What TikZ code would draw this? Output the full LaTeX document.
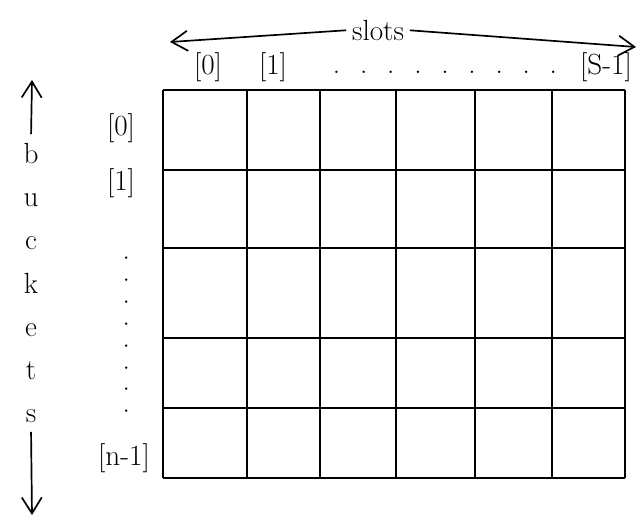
\documentclass[tikz,border=0pt]{standalone}
\usepackage{tikz}
\usetikzlibrary{arrows.meta,positioning}
\tikzset{
  gridline/.style={line width=1.6pt},
  lbl/.style={font=\huge},
  axarrow/.style={line width=1.2pt,shorten <=3pt,-{Straight Barb[length=4mm,width=5mm]}},
}

\begin{document}
\begin{tikzpicture}[x=0.025cm,y=-0.025cm]
    \useasboundingbox (0,0) rectangle (638,519);
    % grid of buckets x slots
    \foreach \x in {163,247,320,396,475,552,625}
        \draw[gridline] (\x,90) -- (\x,478);
    \foreach \y in {90,170,248,338,408,478}
        \draw[gridline] (163,\y) -- (625,\y);
    % slots axis
    \node[font=\huge,inner sep=1pt] (slots) at (378,30) {slots};
    \coordinate (slotsL) at (170,42);
    \coordinate (slotsR) at (636,47);
    \draw[axarrow] (slots.west) -- (slotsL);
    \draw[axarrow] (slots.east) -- (slotsR);
    \node[lbl] (col0) at (208,67) {[0]};
    \node[lbl] (col1) at (273,67) {[1]};
    \node[lbl,inner sep=0pt] (coldots) at (445,72) {\makebox[5.6cm]{.\hfill.\hfill.\hfill.\hfill.\hfill.\hfill.\hfill.\hfill.}};
    \node[lbl] (colS) at (606,67) {[S-1]};
    % buckets axis
    \node[lbl,align=center] (buckets) at (31,283) {b\\[2mm]u\\[2mm]c\\[2mm]k\\[2mm]e\\[2mm]t\\[2mm]s};
    \coordinate (bucketsT) at (32,80);
    \coordinate (bucketsB) at (32,515);
    \draw[axarrow] (buckets.north) -- (bucketsT);
    \draw[axarrow] (buckets.south) -- (bucketsB);
    \node[lbl] (row0) at (121,128) {[0]};
    \node[lbl] (row1) at (121,183) {[1]};
    \node[lbl,rotate=-90,inner sep=0pt] (rowdots) at (127,335) {\makebox[4cm]{.\hfill.\hfill.\hfill.\hfill.\hfill.\hfill.\hfill.}};
    \node[lbl] (rown) at (124,458) {[n-1]};
\end{tikzpicture}
\end{document}
